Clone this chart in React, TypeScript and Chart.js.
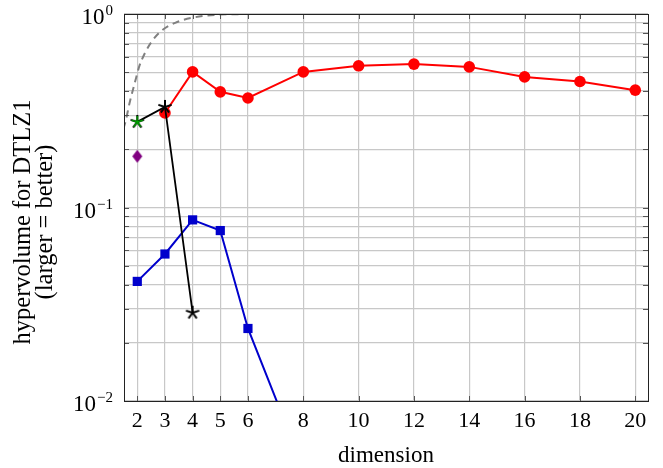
import React, { useEffect, useRef } from 'react';
import { Chart, registerables } from 'chart.js';

Chart.register(...registerables);

// ---- data ----
const dimsRed = [3, 4, 5, 6, 8, 10, 12, 14, 16, 18, 20];
const hvRed = [0.308, 0.502, 0.396, 0.368, 0.502, 0.54, 0.551, 0.533, 0.473, 0.448, 0.404];

const dimsBlue = [2, 3, 4, 5, 6, 8];
const hvBlue = [0.0415, 0.0575, 0.0863, 0.076, 0.0237, 0.0045];

const dimsBlack = [2, 3, 4];
const hvBlack = [0.277, 0.331, 0.0286];

const dimsGreen = [2];
const hvGreen = [0.277];

const dimsPurple = [2];
const hvPurple = [0.184];

const dimsBound = [1.5, 1.58, 1.73, 1.92, 2.06, 2.28, 2.52, 2.88, 3.37, 3.97, 4.83, 6, 8, 12, 20.5];
const hvBound = [0.255, 0.28, 0.351, 0.446, 0.53, 0.63, 0.72, 0.82, 0.9, 0.955, 0.99, 0.999, 1, 1, 1];

const xTickValues = [2, 3, 4, 5, 6, 8, 10, 12, 14, 16, 18, 20];
const yTickValues = [
  0.01, 0.02, 0.03, 0.04, 0.05, 0.06, 0.07, 0.08, 0.09,
  0.1, 0.2, 0.3, 0.4, 0.5, 0.6, 0.7, 0.8, 0.9, 1,
];
const yMajorValues = [1, 0.1, 0.01];
const yMajorExponents = ['0', '−1', '−2'];

const xTitle = 'dimension';
const yTitleLines = ['hypervolume for DTLZ1', '(larger = better)'];

const FONT = '"Liberation Serif", "Times New Roman", serif';

const toPts = (xs: number[], ys: number[]) => xs.map((x, i) => ({ x, y: ys[i] }));

function makeStar(color: string, r: number, lw: number): HTMLCanvasElement {
  const s = Math.ceil(2 * r + lw + 2);
  const c = document.createElement('canvas');
  c.width = s;
  c.height = s;
  const ctx = c.getContext('2d')!;
  ctx.strokeStyle = color;
  ctx.lineWidth = lw;
  ctx.lineCap = 'butt';
  const cx = s / 2;
  const cy = s / 2;
  ctx.beginPath();
  for (let k = 0; k < 5; k++) {
    const a = -Math.PI / 2 + (k * 2 * Math.PI) / 5;
    ctx.moveTo(cx, cy);
    ctx.lineTo(cx + r * Math.cos(a), cy + r * Math.sin(a));
  }
  ctx.stroke();
  return c;
}

function makeDiamond(color: string, w: number, h: number): HTMLCanvasElement {
  const c = document.createElement('canvas');
  c.width = w + 2;
  c.height = h + 2;
  const ctx = c.getContext('2d')!;
  ctx.fillStyle = color;
  const cx = c.width / 2;
  const cy = c.height / 2;
  ctx.beginPath();
  ctx.moveTo(cx, cy - h / 2);
  ctx.lineTo(cx + w / 2, cy);
  ctx.lineTo(cx, cy + h / 2);
  ctx.lineTo(cx - w / 2, cy);
  ctx.closePath();
  ctx.fill();
  return c;
}

const decorPlugin = {
  id: 'decor',
  afterDraw(chart: any) {
    const { ctx, chartArea } = chart;
    const { left, right, top, bottom } = chartArea;
    const xs = chart.scales.x;
    const ys = chart.scales.y;
    ctx.save();

    // tick marks inside the frame
    ctx.strokeStyle = '#555';
    ctx.lineWidth = 1;
    ctx.beginPath();
    yTickValues.forEach((v) => {
      const y = Math.round(ys.getPixelForValue(v)) + 0.5;
      ctx.moveTo(left, y);
      ctx.lineTo(left + 5, y);
      ctx.moveTo(right, y);
      ctx.lineTo(right - 5, y);
    });
    xTickValues.forEach((v) => {
      const x = Math.round(xs.getPixelForValue(v)) + 0.5;
      ctx.moveTo(x, bottom);
      ctx.lineTo(x, bottom - 5);
      ctx.moveTo(x, top);
      ctx.lineTo(x, top + 5);
    });
    ctx.stroke();

    // frame
    ctx.strokeStyle = '#222';
    ctx.lineWidth = 1;
    ctx.strokeRect(Math.round(left) + 0.5, Math.round(top) + 0.5, Math.round(right - left), Math.round(bottom - top));

    // y tick labels 10^k
    ctx.fillStyle = '#000';
    yMajorValues.forEach((v, i) => {
      const y = ys.getPixelForValue(v);
      const exp = yMajorExponents[i];
      ctx.font = `15px ${FONT}`;
      const ew = ctx.measureText(exp).width;
      ctx.textAlign = 'right';
      ctx.textBaseline = 'alphabetic';
      const xr = left - 11;
      ctx.fillText(exp, xr, y + 1);
      ctx.font = `23px ${FONT}`;
      ctx.fillText('10', xr - ew - 1, y + 10);
    });

    // x title
    ctx.font = `23px ${FONT}`;
    ctx.textAlign = 'center';
    ctx.textBaseline = 'alphabetic';
    ctx.fillText(xTitle, (left + right) / 2, 462);

    // y title (rotated)
    ctx.font = `24.5px ${FONT}`;
    ctx.translate(0, 222);
    ctx.rotate(-Math.PI / 2);
    ctx.textBaseline = 'middle';
    ctx.fillText(yTitleLines[0], 0, 24);
    ctx.fillText(yTitleLines[1], 0, 46);

    ctx.restore();
  },
};

export default function App() {
  const ref = useRef<HTMLCanvasElement | null>(null);

  useEffect(() => {
    document.body.style.margin = '0';
    const canvas = ref.current!;
    const starBlack = makeStar('#000', 7, 2);
    const starGreen = makeStar('#00a000', 6, 1.6);
    const diamond = makeDiamond('#800080', 10, 13);
    const grid = '#c8c8c8';

    const chart = new Chart(canvas, {
      type: 'line',
      data: {
        datasets: [
          {
            data: toPts(dimsGreen, hvGreen),
            showLine: false,
            pointStyle: starGreen as any,
            pointRadius: 6,
            borderColor: '#00a000',
            backgroundColor: '#00a000',
          },
          {
            data: toPts(dimsBlack, hvBlack),
            borderColor: '#000',
            backgroundColor: '#000',
            borderWidth: 1.8,
            pointStyle: starBlack as any,
            pointRadius: 6,
            tension: 0,
          },
          {
            data: toPts(dimsPurple, hvPurple),
            showLine: false,
            pointStyle: diamond as any,
            pointRadius: 6,
            borderColor: '#800080',
            backgroundColor: '#800080',
          },
          {
            data: toPts(dimsRed, hvRed),
            borderColor: '#ff0000',
            backgroundColor: '#ff0000',
            borderWidth: 2,
            pointStyle: 'circle',
            pointRadius: 5.8,
            pointBorderWidth: 0,
            tension: 0,
          },
          {
            data: toPts(dimsBlue, hvBlue),
            borderColor: '#0000cc',
            backgroundColor: '#0000cc',
            borderWidth: 2,
            pointStyle: 'rect',
            pointRadius: 6.5,
            pointBorderWidth: 0,
            tension: 0,
          },
          {
            data: toPts(dimsBound, hvBound),
            borderColor: '#808080',
            borderWidth: 2,
            borderDash: [7, 5],
            pointRadius: 0,
            cubicInterpolationMode: 'monotone',
          },
        ],
      },
      options: {
        animation: false,
        responsive: false,
        maintainAspectRatio: false,
        layout: { padding: { top: 14, right: 15, left: 0, bottom: 0 } },
        plugins: { legend: { display: false }, tooltip: { enabled: false } },
        scales: {
          x: {
            type: 'linear',
            min: 1.52,
            max: 20.46,
            afterBuildTicks: (s: any) => {
              s.ticks = xTickValues.map((v) => ({ value: v }));
            },
            afterFit: (s: any) => {
              s.height = 67;
            },
            ticks: {
              autoSkip: false,
              maxRotation: 0,
              padding: 7,
              color: '#000',
              font: { family: FONT, size: 22 },
              callback: (v: any) => String(v),
            },
            grid: { color: grid, lineWidth: 1.2, drawTicks: false },
            border: { display: false },
          },
          y: {
            type: 'logarithmic',
            min: 0.01,
            max: 1,
            afterBuildTicks: (s: any) => {
              s.ticks = yTickValues.map((v) => ({ value: v }));
            },
            afterFit: (s: any) => {
              s.width = 124;
            },
            ticks: { display: false },
            grid: { color: grid, lineWidth: 1.2, drawTicks: false },
            border: { display: false },
          },
        },
      },
      plugins: [decorPlugin],
    } as any);

    return () => chart.destroy();
  }, []);

  return (
    <div style={{ width: 663, height: 468 }}>
      <canvas ref={ref} width={663} height={468} style={{ display: 'block', width: 663, height: 468 }} />
    </div>
  );
}
